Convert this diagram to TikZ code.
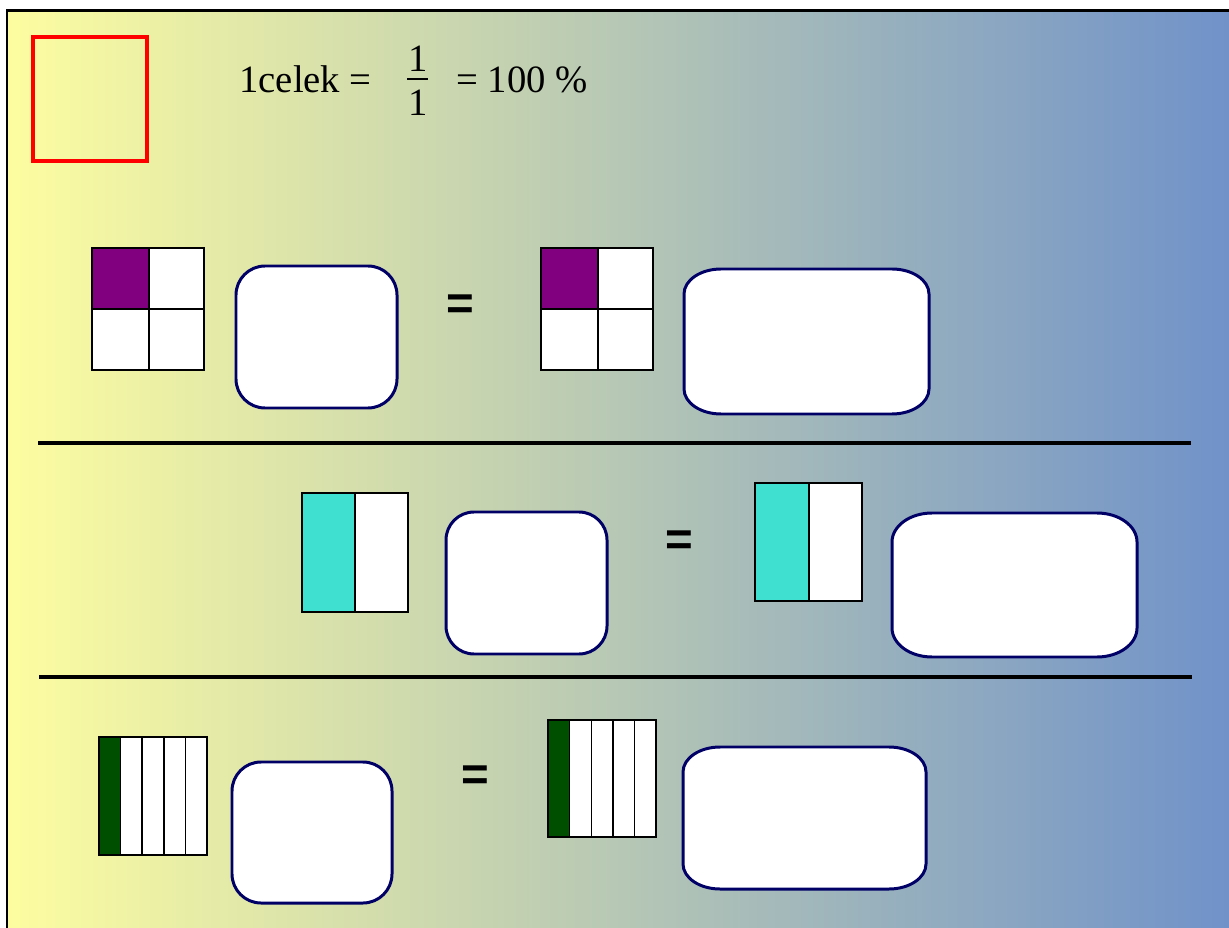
\documentclass[tikz,border=0pt]{standalone}
\usepackage{fontspec}
\setmainfont{Liberation Serif}
\newfontfamily\eqfont{Liberation Sans}

% rounded answer box: x1,y1,x2,y2,rx,ry
\newcommand{\answerbox}[6]{%
  \draw[answer] (#1+#5,#2) -- (#3-#5,#2)
    .. controls (#3-0.448*#5,#2) and (#3,#2+0.448*#6) .. (#3,#2+#6)
    -- (#3,#4-#6)
    .. controls (#3,#4-0.448*#6) and (#3-0.448*#5,#4) .. (#3-#5,#4)
    -- (#1+#5,#4)
    .. controls (#1+0.448*#5,#4) and (#1,#4-0.448*#6) .. (#1,#4-#6)
    -- (#1,#2+#6)
    .. controls (#1,#2+0.448*#6) and (#1+0.448*#5,#2) .. (#1+#5,#2) -- cycle;}

\begin{document}
\begin{tikzpicture}[x=0.02cm, y=-0.02cm,
    answer/.style={draw=boxnavy, fill=white, line width=1.7pt},
    cell/.style={draw=black, line width=0.8pt},
    eqsign/.style={font=\eqfont\bfseries\fontsize{27}{30}\selectfont, inner sep=0pt},
    title/.style={font=\fontsize{22}{26}\selectfont, inner sep=0pt}]
    % Define colors
    \definecolor{bgleft}{RGB}{253,253,160}
    \definecolor{bgright}{RGB}{112,146,201}
    \definecolor{boxnavy}{RGB}{0,0,102}
    \definecolor{quartercolor}{RGB}{128,0,128}
    \definecolor{halfcolor}{RGB}{64,224,208}
    \definecolor{fifthcolor}{RGB}{0,78,0}

    \useasboundingbox (0,0) rectangle (1229,928);

    % Slide background and frame
    \shade[left color=bgleft, right color=bgright] (7,11) rectangle (1229,928);
    \draw[line width=1.7pt] (7,928) -- (7,11) -- (1229,11);

    % Whole
    \draw[red, line width=2.2pt] (33,37) rectangle (147,161);
    \node[title, anchor=base west] (whole) at (239,93) {1celek =};
    \node[title, anchor=base] (num) at (418,72) {1};
    \node[title, anchor=base] (den) at (418,116) {1};
    \draw[line width=0.8pt] (407,79) -- (428,79);
    \node[title, anchor=base west] (percent) at (456,93) {= 100 \%};

    % Quarters
    \fill[white] (92,248) rectangle (204,370);
    \fill[quartercolor] (92,248) rectangle (149,309);
    \draw[cell] (92,248) rectangle (204,370) (149,248) -- (149,370) (92,309) -- (204,309);
    \answerbox{236}{266}{397}{408}{29}{29}
    \node[eqsign] (eqa) at (460,307) {=};
    \fill[white] (541,248) rectangle (653,370);
    \fill[quartercolor] (541,248) rectangle (598,309);
    \draw[cell] (541,248) rectangle (653,370) (598,248) -- (598,370) (541,309) -- (653,309);
    \answerbox{684}{269}{929}{414}{37}{25}

    \draw[line width=2pt] (38,443) -- (1191,443);

    % Halves
    \fill[white] (302,493) rectangle (408,612);
    \fill[halfcolor] (302,493) rectangle (355,612);
    \draw[cell] (302,493) rectangle (408,612) (355,493) -- (355,612);
    \answerbox{446}{512}{607}{654}{28}{28}
    \node[eqsign] (eqb) at (679,543) {=};
    \fill[white] (755,483) rectangle (862,601);
    \fill[halfcolor] (755,483) rectangle (809,601);
    \draw[cell] (755,483) rectangle (862,601) (809,483) -- (809,601);
    \answerbox{892}{513}{1137}{657}{40}{29}

    \draw[line width=2pt] (39,677) -- (1192,677);

    % Fifths
    \fill[white] (99,737) rectangle (207,855);
    \fill[fifthcolor] (99,737) rectangle (120.6,855);
    \foreach \x in {120.6,142.2,163.8,185.4} {
        \draw[cell] (\x,737) -- (\x,855);
    }
    \draw[cell] (99,737) rectangle (207,855);
    \answerbox{232}{762}{392}{903}{29}{29}
    \node[eqsign] (eqc) at (475,778) {=};
    \fill[white] (548,720) rectangle (656,837);
    \fill[fifthcolor] (548,720) rectangle (569.6,837);
    \foreach \x in {569.6,591.2,612.8,634.4} {
        \draw[cell] (\x,720) -- (\x,837);
    }
    \draw[cell] (548,720) rectangle (656,837);
    \answerbox{683}{747}{926}{889}{37}{25}
\end{tikzpicture}
\end{document}
